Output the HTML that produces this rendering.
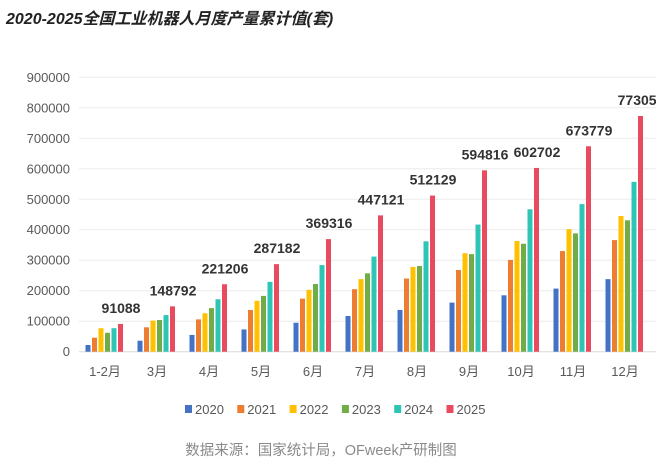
<!DOCTYPE html>
<html><head><meta charset="utf-8"><style>
body{margin:0;background:#fff;width:656px;height:467px;overflow:hidden;font-family:"Liberation Sans","Noto Sans CJK SC",sans-serif}
</style></head><body>
<svg id="c" width="656" height="467" xmlns="http://www.w3.org/2000/svg">
<text x="6" y="24" font-size="16" font-weight="bold" font-style="italic" fill="#222" font-family="Liberation Sans,Noto Sans CJK SC,sans-serif">2020-2025全国工业机器人月度产量累计值(套)</text>
<g id="grid"></g><g id="bars"></g><g id="labels"></g><g id="legend"></g>
<text x="321" y="455" font-size="14.5" fill="#8a8a8a" text-anchor="middle" font-family="Liberation Sans,Noto Sans CJK SC,sans-serif">数据来源：国家统计局，OFweek产研制图</text>
</svg>
<script>
const categories=["1-2月","3月","4月","5月","6月","7月","8月","9月","10月","11月","12月"];
const years=["2020","2021","2022","2023","2024","2025"];
const colors=["#4472C4","#ED7D31","#FFC000","#70AD47","#2EC4B6","#E84A5F"];
const s2020=[22000,36000,55000,73000,95000,117000,137000,161000,185000,207000,238000];
const s2021=[46000,80000,106000,137000,174000,205000,240000,268000,301000,330000,366000];
const s2022=[77000,102000,126000,167000,203000,238000,278000,323000,363000,402000,445000];
const s2023=[62000,104000,143000,183000,222000,257000,281000,320000,354000,388000,431000];
const s2024=[77000,120000,172000,229000,284000,312000,362000,417000,467000,484000,557000];
const s2025=[91088,148792,221206,287182,369316,447121,512129,594816,602702,673779,773059];
const series=[s2020,s2021,s2022,s2023,s2024,s2025];
const yTicks=[0,100000,200000,300000,400000,500000,600000,700000,800000,900000];
const NS="http://www.w3.org/2000/svg";
const y0=351.7,yTop=77.3,xL=79,band=52;
const y=v=>y0-(v/900000)*(y0-yTop);
const xc=i=>xL+band*(i+0.5);
function mk(t,a,p){const e=document.createElementNS(NS,t);for(const k in a)e.setAttribute(k,a[k]);p.appendChild(e);return e;}
const grid=document.getElementById('grid');
yTicks.forEach(v=>{
 const l=mk('line',{x1:xL,x2:656,y1:y(v),y2:y(v),stroke:v===0?'#d9d9d9':'#ececec','stroke-width':1},grid);
 
 
 const t=mk('text',{x:70,y:y(v)+4.5,'font-size':13,fill:'#595959','text-anchor':'end'},grid);
 t.textContent=v;
 
 
});
const bars=document.getElementById('bars'),labels=document.getElementById('labels');
categories.forEach((c,i)=>{
 series.forEach((s,k)=>{
  const bx=xc(i)-19.5+k*6.5;
  const r=mk('rect',{x:bx,y:y(s[i]),width:5,height:y0-y(s[i]),fill:colors[k]},bars);
  
  
 });
 const t=mk('text',{x:xc(i),y:376,'font-size':13,fill:'#595959','text-anchor':'middle'},labels);
 t.textContent=c;
 
 
 const v=mk('text',{x:xc(i)+16,y:y(s2025[i])-11,'font-size':14,'font-weight':'bold',fill:'#333','text-anchor':'middle'},labels);
 v.textContent=s2025[i];
 
 
});
const lg=document.getElementById('legend');
years.forEach((yr,k)=>{
 const lx=185+k*52.3;
 const r=mk('rect',{x:lx,y:405,width:7,height:8,fill:colors[k]},lg);
 
 
 const t=mk('text',{x:lx+10,y:414,'font-size':13,fill:'#595959'},lg);
 t.textContent=yr;
 
 
});
</script>
</body></html>
